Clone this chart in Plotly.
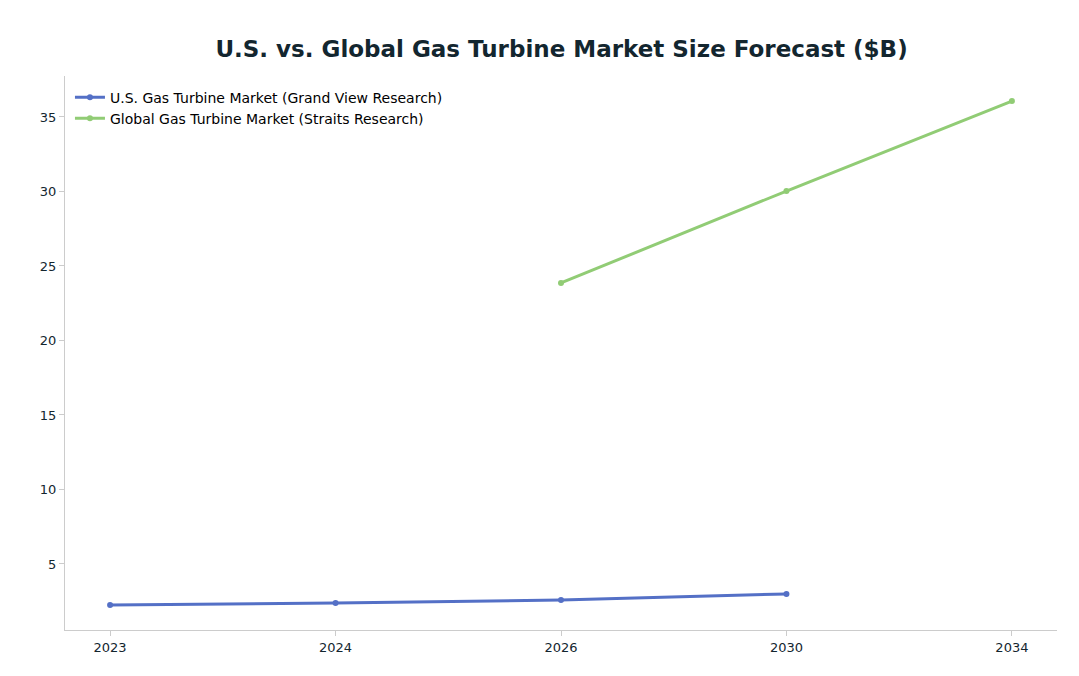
import plotly.graph_objects as go

# Data
years = ["2023", "2024", "2026", "2030", "2034"]
us_years = ["2023", "2024", "2026", "2030"]
us_values = [2.25, 2.38, 2.58, 2.99]
global_years = ["2026", "2030", "2034"]
global_values = [23.86, 30.03, 36.07]

fig = go.Figure()
fig.add_trace(go.Scatter(
    x=us_years, y=us_values, mode="lines+markers",
    line=dict(color="#5470c6", width=3), marker=dict(size=6, color="#5470c6"),
    name="U.S. Gas Turbine Market (Grand View Research)"
))
fig.add_trace(go.Scatter(
    x=global_years, y=global_values, mode="lines+markers",
    line=dict(color="#91cc75", width=3), marker=dict(size=6, color="#91cc75"),
    name="Global Gas Turbine Market (Straits Research)"
))

fig.update_layout(
    width=1079, height=676,
    font=dict(family="DejaVu Sans", size=13, color="#13262f"),
    title=dict(text="<b>U.S. vs. Global Gas Turbine Market Size Forecast ($B)</b>",
               x=0.513, xanchor="center", y=0.94, yanchor="middle",
               font=dict(size=23, color="#13262f")),
    margin=dict(l=57, r=30, t=68, b=54),
    plot_bgcolor="white", paper_bgcolor="white",
    legend=dict(x=0.005, y=0.99, xanchor="left", yanchor="top",
                bgcolor="rgba(255,255,255,0)", font=dict(size=14, color="black")),
    xaxis=dict(type="category", categoryorder="array", categoryarray=years,
               range=[-0.2, 4.2], showgrid=False, showline=True, linecolor="#cccccc",
               ticks="outside", tickcolor="#cccccc", zeroline=False),
    yaxis=dict(range=[0.57, 37.75], dtick=5, showgrid=False, showline=True,
               linecolor="#cccccc", ticks="outside", tickcolor="#cccccc", zeroline=False),
)

fig.write_html("out.html")
